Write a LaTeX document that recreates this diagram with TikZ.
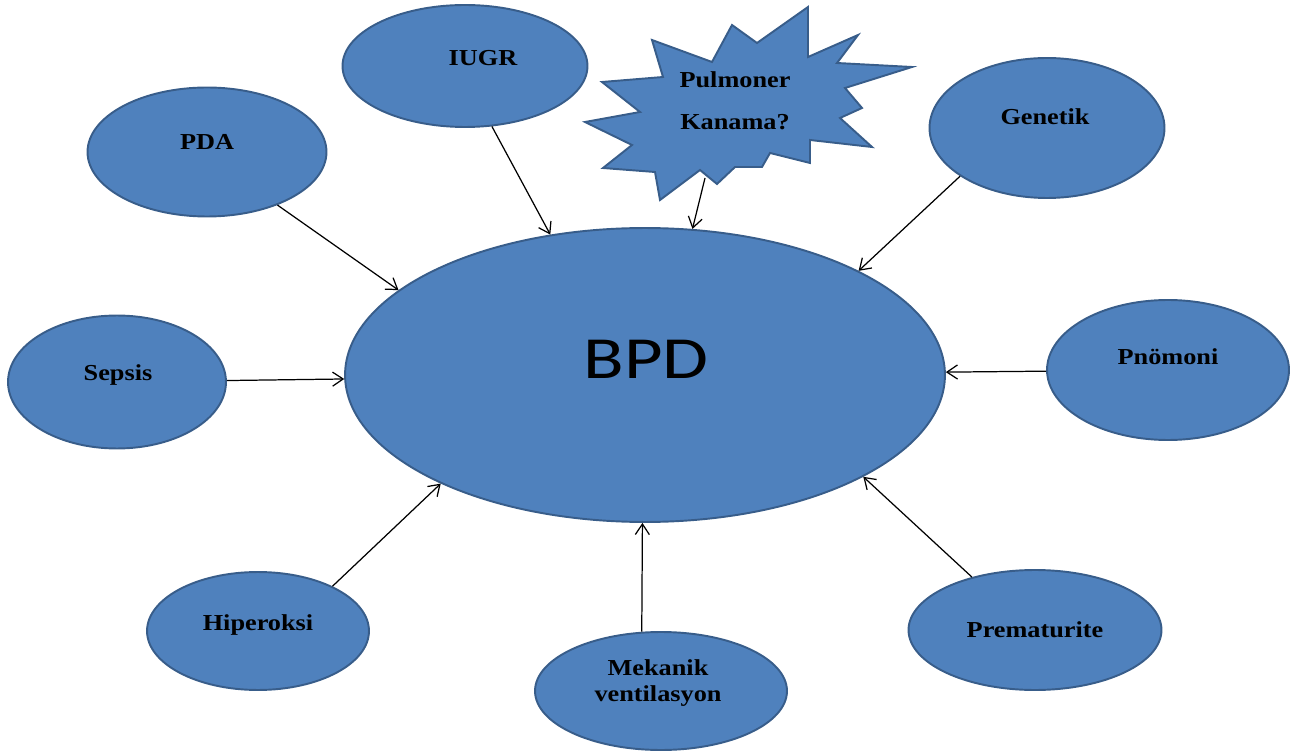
\documentclass[tikz,border=0pt]{standalone}
\usepackage{fontspec}
\usetikzlibrary{shapes.geometric,arrows.meta}
\newfontfamily\lblfont{Liberation Serif}[FakeStretch=1.15]
\newfontfamily\bpdfont{Carlito}[FakeStretch=1.25]
\definecolor{blobfill}{HTML}{4F81BD}
\definecolor{blobline}{HTML}{385D8A}
\tikzset{
  blob/.style={ellipse,draw=blobline,fill=blobfill,line width=1.1pt,inner sep=0pt},
  lbl/.style={font=\lblfont\bfseries\fontsize{13}{15}\selectfont,inner sep=0pt,align=center},
  arr/.style={-{Straight Barb[length=6pt,width=8pt]},line width=0.7pt}
}
\begin{document}
\begin{tikzpicture}[x=0.02cm,y=-0.02cm]
\useasboundingbox (0,0) rectangle (1304,756);
% centre
\node[blob,minimum width=12cm,minimum height=5.88cm] (bpd) at (645,375) {};
\node[font=\bpdfont\fontsize{34}{40}\selectfont,inner sep=0pt] (bpdtxt) at (646,359) {BPD};
% causes
\node[blob,minimum width=4.78cm,minimum height=2.58cm] (pda) at (207,152) {};
\node[blob,minimum width=4.9cm,minimum height=2.44cm] (iugr) at (465,66) {};
\node[blob,minimum width=4.7cm,minimum height=2.8cm] (gen) at (1047,128) {};
\node[blob,minimum width=4.36cm,minimum height=2.66cm] (sep) at (117,382) {};
\node[blob,minimum width=4.84cm,minimum height=2.8cm] (pno) at (1168,370) {};
\node[blob,minimum width=4.44cm,minimum height=2.36cm] (hip) at (258,631) {};
\node[blob,minimum width=5.04cm,minimum height=2.36cm] (mek) at (661,691) {};
\node[blob,minimum width=5.06cm,minimum height=2.4cm] (pre) at (1035,630) {};
% starburst
\draw[draw=blobline,fill=blobfill,line width=1.1pt] (652,40) -- (712,62) -- (732,25) -- (757,43)
  -- (808,7) -- (808,57) -- (858,35) -- (837,63) -- (912,67) -- (845,88) -- (862,108)
  -- (840,118) -- (872,147) -- (810,140) -- (810,163) -- (770,153) -- (762,167)
  -- (735,167) -- (717,184) -- (700,170) -- (660,200) -- (655,172) -- (603,168)
  -- (632,145) -- (585,122) -- (640,112) -- (602,82) -- (663,77) -- cycle;
\coordinate (startail) at (705,178);
% labels
\node[lbl] (pdatxt) at (207,142) {PDA};
\node[lbl] (iugrtxt) at (483,58) {IUGR};
\node[lbl] (startxt) at (735,101) {Pulmoner\\[9pt]Kanama?};
\node[lbl] (gentxt) at (1045,117) {Genetik};
\node[lbl] (septxt) at (118,375) {Sepsis};
\node[lbl] (pnotxt) at (1168,357) {Pnömoni};
\node[lbl] (hiptxt) at (258,625) {Hiperoksi};
\node[lbl] (mektxt) at (658,683) {Mekanik\\ventilasyon};
\node[lbl] (pretxt) at (1035,630) {Prematurite};
% arrows
\draw[arr] (pda.-37) -- (bpd.161);
\draw[arr] (iugr.-66) -- (bpd.124);
\draw[arr] (startail) -- (bpd.72);
\draw[arr] (gen.209) -- (bpd.26);
\draw[arr] (sep) -- (bpd);
\draw[arr] (pno) -- (bpd);
\draw[arr] (hip.31) -- (bpd.208);
\draw[arr] (mek.108) -- (bpd.269);
\draw[arr] (pre.140) -- (bpd.-25);
\end{tikzpicture}
\end{document}
